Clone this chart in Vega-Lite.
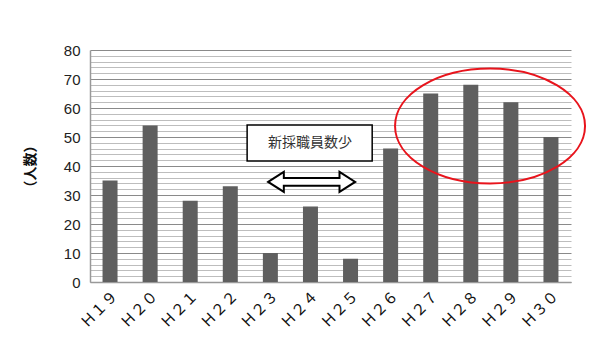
{
  "$schema": "https://vega.github.io/schema/vega-lite/v6.json",
  "width": 481,
  "height": 232,
  "autosize": {"type": "none"},
  "padding": {"left": 90, "top": 50, "right": 32, "bottom": 63},
  "background": "white",
  "config": {
    "view": {"stroke": null},
    "font": "Noto Sans CJK JP"
  },
  "datasets": {
    "bars": [
      {"year": "Ｈ１９", "count": 35},
      {"year": "Ｈ２０", "count": 54},
      {"year": "Ｈ２１", "count": 28},
      {"year": "Ｈ２２", "count": 33},
      {"year": "Ｈ２３", "count": 10},
      {"year": "Ｈ２４", "count": 26},
      {"year": "Ｈ２５", "count": 8},
      {"year": "Ｈ２６", "count": 46},
      {"year": "Ｈ２７", "count": 65},
      {"year": "Ｈ２８", "count": 68},
      {"year": "Ｈ２９", "count": 62},
      {"year": "Ｈ３０", "count": 50}
    ],
    "box": [{"x1": 3.92, "x2": 7.04, "y1": 41.7, "y2": 54.1, "tx": 5.49, "ty": 47.9, "label": "新採職員数少"}],
    "arrow": [{"x": 5.53, "y": 34.5}],
    "ellipse": [{"x": 9.98, "y": 53.8}]
  },
  "layer": [
    {
      "data": {"name": "bars"},
      "mark": {"type": "bar", "color": "#5f5f5f", "width": 15},
      "encoding": {
        "x": {
          "field": "year", "type": "ordinal", "sort": null,
          "scale": {"paddingInner": 0.6, "paddingOuter": 0.3},
          "axis": {
            "title": null, "labelAngle": -45, "labelFontSize": 15, "labelColor": "#111",
            "labelFontWeight": "normal", "ticks": false, "labelPadding": 6,
            "domainColor": "#999", "domainWidth": 1.5, "grid": false, "labelFont": "Noto Sans CJK JP"
          }
        },
        "y": {
          "field": "count", "type": "quantitative",
          "scale": {"domain": [0, 80], "nice": false},
          "axis": {
            "title": "（人数）", "titleFontSize": 14, "titleFontWeight": "bold", "titleColor": "#111",
            "titlePadding": 26, "titleFont": "Noto Sans CJK JP",
            "values": [0,2,4,6,8,10,12,14,16,18,20,22,24,26,28,30,32,34,36,38,40,42,44,46,48,50,52,54,56,58,60,62,64,66,68,70,72,74,76,78,80],
            "labelExpr": "datum.value % 10 === 0 ? datum.label : ''",
            "labelOverlap": false,
            "labelFontSize": 15, "labelColor": "#222", "labelPadding": 10, "labelFont": "Liberation Sans",
            "ticks": false, "domainColor": "#999", "domainWidth": 1.5,
            "grid": true,
            "gridColor": {"condition": {"test": "datum.value % 10 === 0", "value": "#8a8a8a"}, "value": "#bdbdbd"},
            "gridWidth": 1
          }
        }
      }
    },
    {
      "data": {"name": "box"},
      "mark": {"type": "rect", "fill": "white", "stroke": "black", "strokeWidth": 1.5},
      "encoding": {
        "x": {"field": "x1", "type": "quantitative", "scale": {"domain": [0, 12], "nice": false, "zero": false}, "axis": null},
        "x2": {"field": "x2"},
        "y": {"field": "y1", "type": "quantitative", "scale": {"domain": [0, 80], "nice": false}, "axis": null},
        "y2": {"field": "y2"}
      }
    },
    {
      "data": {"name": "box"},
      "mark": {"type": "text", "fontSize": 14, "color": "#333", "font": "Noto Sans CJK JP"},
      "encoding": {
        "x": {"field": "tx", "type": "quantitative", "scale": {"domain": [0, 12], "nice": false, "zero": false}, "axis": null},
        "y": {"field": "ty", "type": "quantitative", "scale": {"domain": [0, 80], "nice": false}, "axis": null},
        "text": {"field": "label"}
      }
    },
    {
      "data": {"name": "arrow"},
      "mark": {
        "type": "point", "filled": false, "fill": "white", "fillOpacity": 1, "stroke": "black", "strokeWidth": 2, "opacity": 1,
        "size": 7569,
        "shape": "M-1,0L-0.64,-0.23L-0.64,-0.09L0.64,-0.09L0.64,-0.23L1,0L0.64,0.23L0.64,0.09L-0.64,0.09L-0.64,0.23Z"
      },
      "encoding": {
        "x": {"field": "x", "type": "quantitative", "scale": {"domain": [0, 12], "nice": false, "zero": false}, "axis": null},
        "y": {"field": "y", "type": "quantitative", "scale": {"domain": [0, 80], "nice": false}, "axis": null}
      }
    },
    {
      "data": {"name": "ellipse"},
      "mark": {
        "type": "point", "filled": false, "stroke": "#e8141c", "strokeWidth": 2, "opacity": 1,
        "size": 36100,
        "shape": "M-1,0A1,0.605,0,1,0,1,0A1,0.605,0,1,0,-1,0Z"
      },
      "encoding": {
        "x": {"field": "x", "type": "quantitative", "scale": {"domain": [0, 12], "nice": false, "zero": false}, "axis": null},
        "y": {"field": "y", "type": "quantitative", "scale": {"domain": [0, 80], "nice": false}, "axis": null}
      }
    }
  ],
  "resolve": {"scale": {"x": "independent", "y": "independent"}}
}
